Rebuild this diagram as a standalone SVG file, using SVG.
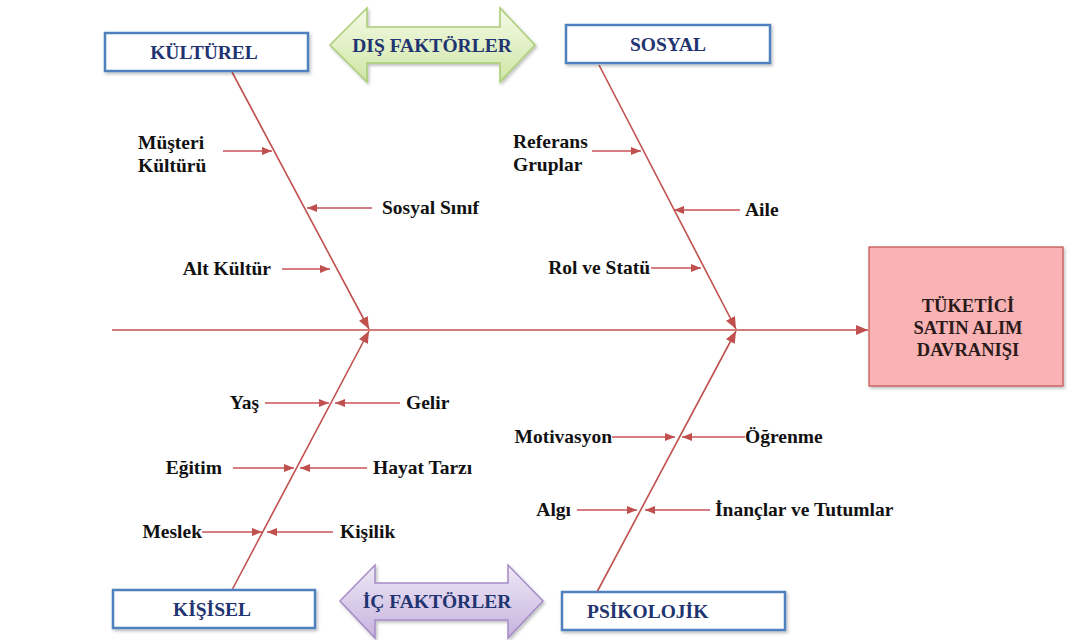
<svg xmlns="http://www.w3.org/2000/svg" width="1076" height="640" viewBox="0 0 1076 640">
<defs>
<style>
.box{fill:#fff;stroke:#4f81bd;stroke-width:2.5}
.head{font-family:"Liberation Serif","Times New Roman",serif;font-weight:bold;font-size:19.5px;fill:#1f3470}
.lbl{font-family:"Liberation Serif","Times New Roman",serif;font-weight:bold;font-size:19.5px;fill:#111}
.bone{stroke:#c0504d;stroke-width:1.6;fill:none;marker-end:url(#ah)}
.sub{stroke:#c9505a;stroke-width:1.4;fill:none;marker-end:url(#sh)}
.end{text-anchor:end}
.mid{text-anchor:middle}
</style>
<marker id="ah" markerUnits="userSpaceOnUse" markerWidth="12" markerHeight="10" refX="12" refY="5" orient="auto">
<path d="M0,0 L12,5 L0,10 z" fill="#c0504d"/>
</marker>
<marker id="sh" markerUnits="userSpaceOnUse" markerWidth="10" markerHeight="8" refX="10" refY="4" orient="auto">
<path d="M0,0 L10,4 L0,8 z" fill="#c0504d"/>
</marker>
<linearGradient id="gG" x1="0" y1="0" x2="0" y2="1">
<stop offset="0" stop-color="#f4fae6"/>
<stop offset="1" stop-color="#cfe6a6"/>
</linearGradient>
<linearGradient id="gP" x1="0" y1="0" x2="0" y2="1">
<stop offset="0" stop-color="#efe8f6"/>
<stop offset="1" stop-color="#c6b3de"/>
</linearGradient>
<filter id="sd" x="-10%" y="-20%" width="130%" height="150%">
<feDropShadow dx="1.5" dy="2" stdDeviation="1.5" flood-color="#000" flood-opacity="0.25"/>
</filter>
</defs>

<g id="connectors">
<line class="bone" x1="112" y1="330" x2="868" y2="330"/>
<line class="bone" x1="232" y1="72" x2="369" y2="329"/>
<line class="bone" x1="599" y1="65" x2="736" y2="329"/>
<line class="bone" x1="232" y1="590" x2="369" y2="331"/>
<line class="bone" x1="597" y1="592" x2="736" y2="331"/>
<line class="sub" x1="223" y1="151" x2="272" y2="151"/>
<line class="sub" x1="372" y1="208" x2="307" y2="208"/>
<line class="sub" x1="282" y1="269" x2="330" y2="269"/>
<line class="sub" x1="592" y1="151" x2="641" y2="151"/>
<line class="sub" x1="740" y1="210" x2="674" y2="210"/>
<line class="sub" x1="651" y1="268" x2="701" y2="268"/>
<line class="sub" x1="265" y1="403" x2="329" y2="403"/>
<line class="sub" x1="400" y1="403" x2="335" y2="403"/>
<line class="sub" x1="233" y1="468" x2="294" y2="468"/>
<line class="sub" x1="367" y1="468" x2="300" y2="468"/>
<line class="sub" x1="202" y1="532" x2="262" y2="532"/>
<line class="sub" x1="333" y1="532" x2="267" y2="532"/>
<line class="sub" x1="612" y1="437" x2="675" y2="437"/>
<line class="sub" x1="745" y1="437" x2="682" y2="437"/>
<line class="sub" x1="577" y1="510" x2="637" y2="510"/>
<line class="sub" x1="710" y1="510" x2="645" y2="510"/>
</g>

<g id="kulturel">
<rect class="box" x="105" y="33" width="203" height="38" filter="url(#sd)"/>
<text class="head mid" x="204" y="59">KÜLTÜREL</text>
</g>
<g id="sosyal">
<rect class="box" x="566" y="25" width="204" height="38" filter="url(#sd)"/>
<text class="head mid" x="668" y="51">SOSYAL</text>
</g>
<g id="kisisel">
<rect class="box" x="113" y="590" width="202" height="38" filter="url(#sd)"/>
<text class="head mid" x="212" y="616">KİŞİSEL</text>
</g>
<g id="psikolojik">
<rect class="box" x="562" y="592" width="223" height="38" filter="url(#sd)"/>
<text class="head" x="587" y="618">PSİKOLOJİK</text>
</g>

<g id="dis-faktorler">
<polygon points="330,45 367,8 367,27 500,27 500,8 535,45 500,82 500,63 367,63 367,82" fill="url(#gG)" stroke="#a9cc74" stroke-width="1.5" filter="url(#sd)"/>
<text class="head mid" x="432" y="52">DIŞ FAKTÖRLER</text>
</g>
<g id="ic-faktorler">
<polygon points="340,601 375,565 375,583 508,583 508,565 543,601 508,638 508,620 375,620 375,638" fill="url(#gP)" stroke="#a48cc6" stroke-width="1.5" filter="url(#sd)"/>
<text class="head mid" x="437" y="608">İÇ FAKTÖRLER</text>
</g>

<g id="sonuc">
<rect x="869" y="247" width="194" height="139" fill="#f9b3b5" stroke="#c0504d" stroke-width="1.2" filter="url(#sd)"/>
<text class="lbl mid" style="font-size:18.5px;fill:#2a1a1a" x="968" y="312">TÜKETİCİ</text>
<text class="lbl mid" style="font-size:18.5px;fill:#2a1a1a" x="968" y="334">SATIN ALIM</text>
<text class="lbl mid" style="font-size:18.5px;fill:#2a1a1a" x="968" y="356">DAVRANIŞI</text>
</g>

<g id="musteri-kulturu"><text class="lbl" x="138" y="149">Müşteri</text><text class="lbl" x="138" y="172">Kültürü</text></g>
<g id="sosyal-sinif"><text class="lbl" x="382" y="214">Sosyal Sınıf</text></g>
<g id="alt-kultur"><text class="lbl end" x="271" y="275">Alt Kültür</text></g>
<g id="referans-gruplar"><text class="lbl" x="513" y="148">Referans</text><text class="lbl" x="513" y="171">Gruplar</text></g>
<g id="aile"><text class="lbl" x="745" y="216">Aile</text></g>
<g id="rol-statu"><text class="lbl end" x="650" y="274">Rol ve Statü</text></g>
<g id="yas"><text class="lbl end" x="259" y="409">Yaş</text></g>
<g id="gelir"><text class="lbl" x="406" y="409">Gelir</text></g>
<g id="egitim"><text class="lbl end" x="222" y="474">Eğitim</text></g>
<g id="hayat-tarzi"><text class="lbl" x="373" y="474">Hayat Tarzı</text></g>
<g id="meslek"><text class="lbl end" x="202" y="538">Meslek</text></g>
<g id="kisilik"><text class="lbl" x="340" y="538">Kişilik</text></g>
<g id="motivasyon"><text class="lbl end" x="612" y="443">Motivasyon</text></g>
<g id="ogrenme"><text class="lbl" x="745" y="443">Öğrenme</text></g>
<g id="algi"><text class="lbl end" x="571" y="516">Algı</text></g>
<g id="inanclar"><text class="lbl" x="715" y="516">İnançlar ve Tutumlar</text></g>
</svg>
